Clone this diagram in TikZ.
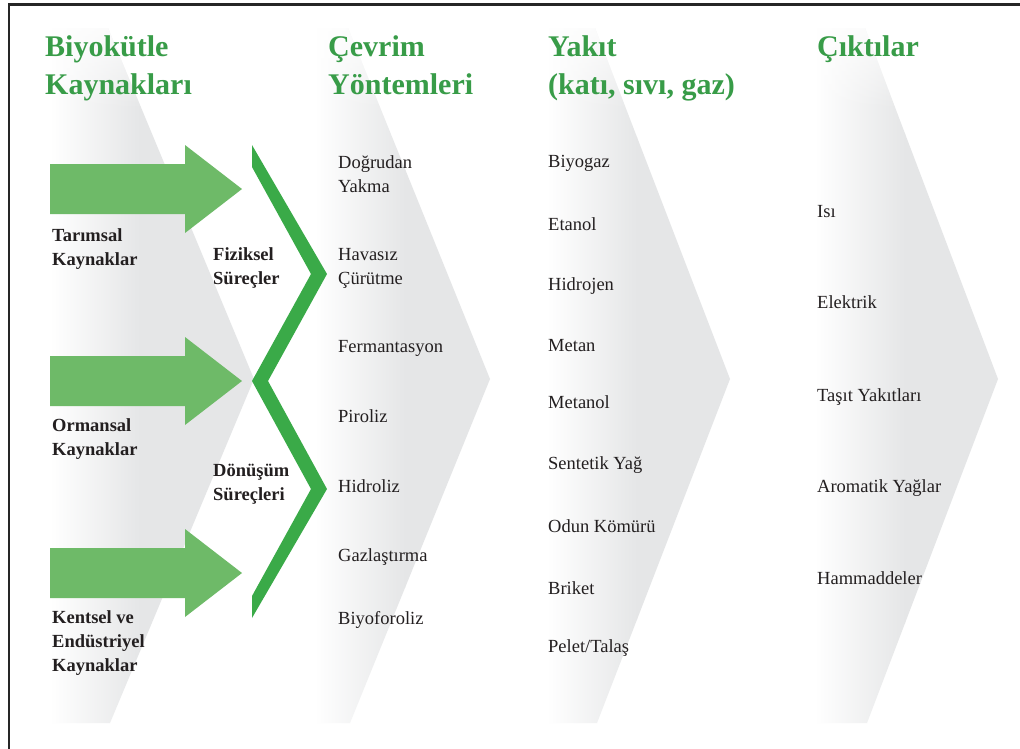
\documentclass[tikz,border=0pt]{standalone}
\usepackage{fontspec}
\setmainfont{Liberation Serif}
\usetikzlibrary{fadings}

\definecolor{titlegreen}{RGB}{56,156,72}
\definecolor{arrowgreen}{RGB}{110,186,104}
\definecolor{zigzaggreen}{RGB}{58,170,72}
\definecolor{bandgray}{RGB}{229,230,231}
\definecolor{inkblack}{RGB}{35,31,32}

% multi-line nodes are placed by the baseline of their last line
\tikzset{
  heading/.style={anchor=base west, inner sep=0pt, text=titlegreen, align=left,
    font=\fontsize{30}{38}\selectfont\bfseries},
  item/.style={anchor=base west, inner sep=0pt, text=inkblack, align=left,
    font=\fontsize{18.5}{24}\selectfont},
  source/.style={anchor=base west, inner sep=0pt, text=inkblack, align=left,
    font=\fontsize{18.5}{24}\selectfont\bfseries},
  pics/blockarrow/.style={code={
    \fill[arrowgreen] (0,-25) -- (135,-25) -- (135,-44) -- (192,0)
      -- (135,44) -- (135,25) -- (0,25) -- cycle;}},
}

% grey chevron band: left edge, top-right x, tip x, bottom-right x
\newcommand{\fadechevron}[4]{%
  \begin{scope}
    \clip (#1,28) -- (#2,28) -- (#3,379) -- (#4,723) -- (#1,723) -- cycle;
    \shade[left color=white, right color=bandgray] (#1,20) rectangle ({#1+90},730);
    \fill[bandgray] ({#1+90},20) rectangle ({#3+2},730);
    % soft upper end (the y axis points down here, so the fading is flipped)
    \fill[white, path fading=south, opacity=0.85] (#1,20) rectangle ({#3+2},110);
  \end{scope}}

\begin{document}
\begin{tikzpicture}[x=1pt,y=-1pt]
\useasboundingbox (0,0) rectangle (1020,748);
\fill[white] (0,0) rectangle (1020,748);

% column bands
\fadechevron{50}{108}{254}{110}
\fadechevron{315}{348}{490}{350}
\fadechevron{547}{595}{730}{597}
\fadechevron{815}{865}{998}{867}

% frame
\draw[line width=2.5pt, black!85] (9,760) -- (9,4.5) -- (1030,4.5);

% source arrows
\pic at (50,189) {blockarrow};
\pic at (50,381) {blockarrow};
\pic at (50,573) {blockarrow};

% process zigzag
\fill[zigzaggreen] (252,145) -- (327,274) -- (268,381) -- (327,489) -- (252,618)
  -- (252,596) -- (311,489) -- (252,381) -- (311,274) -- (252,167) -- cycle;

% headings
\node[heading] (h1) at (45,94) {Biyokütle\\Kaynakları};
\node[heading] (h2) at (328,94) {Çevrim\\Yöntemleri};
\node[heading] (h3) at (548,94) {Yakıt\\(katı, sıvı, gaz)};
\node[heading] (h4) at (817,56) {Çıktılar};

% sources
\node[source] (s1) at (52,265) {Tarımsal\\Kaynaklar};
\node[source] (s2) at (52,455) {Ormansal\\Kaynaklar};
\node[source] (s3) at (52,671) {Kentsel ve\\Endüstriyel\\Kaynaklar};

% process groups
\node[source] (p1) at (213,284) {Fiziksel\\Süreçler};
\node[source] (p2) at (213,500) {Dönüşüm\\Süreçleri};

% conversion methods
\node[item] (m1) at (338,192) {Doğrudan\\Yakma};
\node[item] (m2) at (338,284) {Havasız\\Çürütme};
\node[item] (m3) at (338,352) {Fermantasyon};
\node[item] (m4) at (338,422) {Piroliz};
\node[item] (m5) at (338,492) {Hidroliz};
\node[item] (m6) at (338,561) {Gazlaştırma};
\node[item] (m7) at (338,624) {Biyoforoliz};

% fuels
\node[item] (f1) at (548,167) {Biyogaz};
\node[item] (f2) at (548,230) {Etanol};
\node[item] (f3) at (548,290) {Hidrojen};
\node[item] (f4) at (548,351) {Metan};
\node[item] (f5) at (548,408) {Metanol};
\node[item] (f6) at (548,469) {Sentetik Yağ};
\node[item] (f7) at (548,532) {Odun Kömürü};
\node[item] (f8) at (548,594) {Briket};
\node[item] (f9) at (548,652) {Pelet/Talaş};

% outputs
\node[item] (o1) at (817,217) {Isı};
\node[item] (o2) at (817,308) {Elektrik};
\node[item] (o3) at (817,401) {Taşıt Yakıtları};
\node[item] (o4) at (817,492) {Aromatik Yağlar};
\node[item] (o5) at (817,584) {Hammaddeler};
\end{tikzpicture}
\end{document}
